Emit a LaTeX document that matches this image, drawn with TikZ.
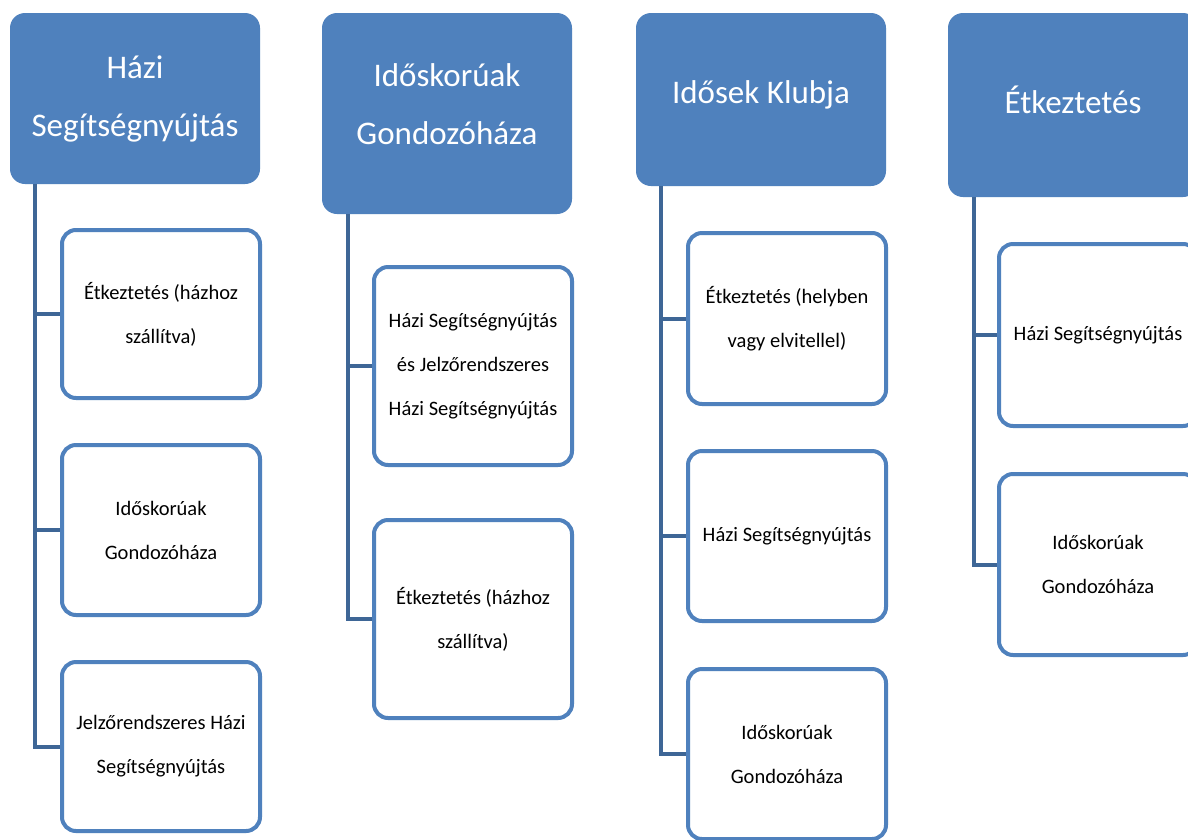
\documentclass[tikz,border=0pt]{standalone}
\usepackage{fontspec}
\setmainfont{Carlito}
\definecolor{headfill}{RGB}{79,129,189}
\definecolor{boxline}{RGB}{79,129,189}
\definecolor{connline}{RGB}{62,102,150}
\tikzset{
  head/.style={shape=rectangle, fill=headfill, draw=none, rounded corners=15pt,
    minimum width=250pt, inner sep=0pt},
  headtext/.style={text=white, align=center, font=\fontsize{33}{58}\selectfont, inner sep=0pt},
  child/.style={shape=rectangle, draw=boxline, line width=4pt, fill=white, rounded corners=14pt,
    minimum width=198pt, align=center, inner sep=0pt, font=\fontsize{20.5}{44}\selectfont},
  conn/.style={draw=connline, line width=4pt}
}
\begin{document}
\begin{tikzpicture}[x=1pt,y=-1pt]
\clip (0,0) rectangle (1188,839);
\fill[white] (0,0) rectangle (1188,839);

% column 1
\node[head, minimum height=171pt, label={[headtext]center:{Házi\\Segítségnyújtás}}] (h1) at (135,98.5) {};
\node[child, minimum height=168pt] (c11) at (161,314) {Étkeztetés (házhoz\\szállítva)};
\node[child, minimum height=170pt] (c12) at (161,530) {Időskorúak\\Gondozóháza};
\node[child, minimum height=169pt] (c13) at (161,746.5) {Jelzőrendszeres Házi\\Segítségnyújtás};
\coordinate (t1) at ([xshift=-100pt]h1.south);
\draw[conn] (t1) |- (c13.west);
\draw[conn] (t1 |- c11.west) -- (c11.west);
\draw[conn] (t1 |- c12.west) -- (c12.west);

% column 2
\node[head, minimum height=201pt, label={[headtext,yshift=9.5pt]center:{Időskorúak\\Gondozóháza}}] (h2) at (447,113.5) {};
\node[child, minimum height=198pt] (c21) at (473,366) {Házi Segítségnyújtás\\és Jelzőrendszeres\\Házi Segítségnyújtás};
\node[child, minimum height=198pt] (c22) at (473,619) {Étkeztetés (házhoz\\szállítva)};
\coordinate (t2) at ([xshift=-99pt]h2.south);
\draw[conn] (t2) |- (c22.west);
\draw[conn] (t2 |- c21.west) -- (c21.west);

% column 3
\node[head, minimum height=173pt, label={[headtext,yshift=4.5pt]center:{Idősek Klubja}}] (h3) at (761,99.5) {};
\node[child, minimum height=171pt] (c31) at (787,318.5) {Étkeztetés (helyben\\vagy elvitellel)};
\node[child, minimum height=170pt] (c32) at (787,536) {Házi Segítségnyújtás};
\node[child, minimum height=170pt] (c33) at (787,754) {Időskorúak\\Gondozóháza};
\coordinate (t3) at ([xshift=-100pt]h3.south);
\draw[conn] (t3) |- (c33.west);
\draw[conn] (t3 |- c31.west) -- (c31.west);
\draw[conn] (t3 |- c32.west) -- (c32.west);

% column 4
\node[head, minimum height=184pt, label={[headtext,yshift=5pt]center:{Étkeztetés}}] (h4) at (1073,105) {};
\node[child, minimum height=182pt] (c41) at (1098,335) {Házi Segítségnyújtás};
\node[child, minimum height=181pt] (c42) at (1098,564.5) {Időskorúak\\Gondozóháza};
\coordinate (t4) at ([xshift=-99pt]h4.south);
\draw[conn] (t4) |- (c42.west);
\draw[conn] (t4 |- c41.west) -- (c41.west);
\end{tikzpicture}
\end{document}
